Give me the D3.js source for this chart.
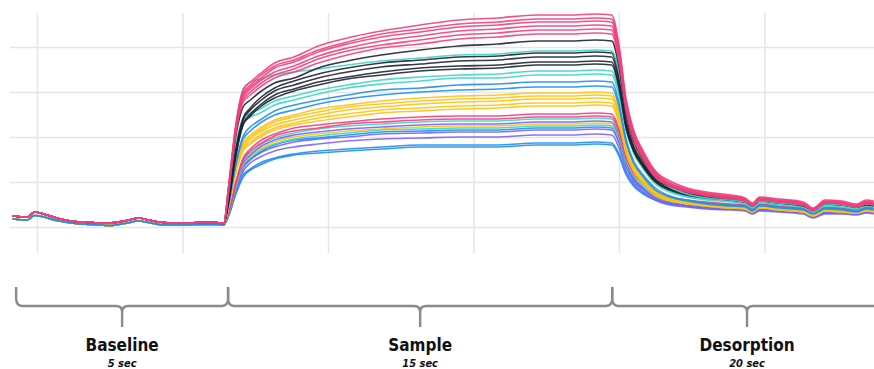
<!DOCTYPE html>
<html>
<head>
<meta charset="utf-8">
<script src="https://cdn.jsdelivr.net/npm/d3@7"></script>
<style>
body { margin: 0; background: #fff; }
svg { display: block; }
</style>
</head>
<body>
<script>
var w = 874;
var h = 369;

// time points (sample index) for each phase
var baseTimes = [0, 1, 3, 4.5, 6, 9, 12, 16, 20, 23, 26, 28, 31, 35, 39, 42, 43.5];
var sampleTimes = [44.5, 46, 47.5, 49, 51, 54, 58, 63, 69, 76, 84, 92, 100, 108, 115, 120, 123.5];
var dropTimes = [125, 126.5, 128, 130, 132.5, 135.5, 139, 143];
var tailTimes = [148, 151, 152.5, 154, 158, 163, 165, 167.5, 171, 174, 176, 177.5];

// baseline band (upper and lower edge of the bundle)
var baseUpper = [11, 10.5, 10, 15, 13.5, 9, 6, 4.5, 4, 6, 9, 7, 4.5, 4, 4.5, 4.5, 3.5];
var baseLower = [8, 7.5, 7, 11.5, 10.5, 6.5, 4, 2.5, 1.5, 3.5, 6, 4.5, 2, 2, 2.5, 2.5, 2];

var sensorColors = ["pink", "pink", "pink", "pink", "pink", "pink", "dark", "teal", "dark", "dark", "dark", "dark",
    "teal", "teal", "blue", "blue", "yellow", "yellow", "yellow", "yellow", "yellow", "pink", "pink", "teal",
    "purple", "yellow", "teal", "blue", "purple", "purple", "blue", "blue"];
var sensorBase = ["hi", "hi", "hi", "hi", "hi", "hi", "hi", "hi", "hi", "hi", "hi", "hi", "hi", "hi", "lo", "lo",
    "lo", "lo", "lo", "lo", "lo", "hi", "hi", "lo", "lo", "lo", "lo", "lo", "lo", "lo", "lo", "lo"];

// sensor responses: sample phase, desorption drop, desorption tail
var responses = [
    [41,103,137,145,153,164,170,181,189,196,202,207,209,212,212,213,212, 182,127,97,76,56,46,39,35, 32,29,24,30,28,25,19,27,26,23,27,26],
    [40,101,134,142,151,161,167,177,185,193,198,203,205,208,208,209,208, 178,124,95,74,55,44,38,34, 31,28,23,29,27,24,18,26,25,22,26,25],
    [39,100,132,140,148,159,165,175,183,190,195,200,202,205,205,206,205, 176,122,93,73,54,43,37,33, 30,27,23,28,26,23,18,25,24,21,25,24],
    [39,98,130,138,146,155,161,171,179,186,191,196,198,201,201,202,201, 172,120,92,72,53,43,37,33, 30,27,22,28,26,23,17,25,24,21,25,24],
    [38,96,127,135,143,152,158,168,176,182,187,192,194,197,197,198,197, 169,118,90,70,52,42,36,32, 29,26,22,27,25,22,17,24,23,21,24,23],
    [37,94,125,132,140,149,155,164,172,179,183,188,190,193,193,194,193, 165,115,88,68,50,41,35,31, 28,26,21,27,25,22,16,24,23,20,23,22],
    [36,91,120,127,135,144,149,159,166,172,177,181,183,186,186,187,186, 160,112,86,67,51,41,36,32, 29,27,22,28,26,23,17,25,24,21,24,23],
    [34,100,138,145,148,152,155,158,162,166,169,172,173,176,176,177,176, 155,115,90,70,52,40,33,29, 27,25,21,26,24,22,17,23,22,20,23,22],
    [27,77,109,119,129,139,146,153,159,164,167,170,171,174,174,175,174, 150,105,81,64,48,40,35,31, 28,26,22,27,25,22,17,24,23,21,24,23],
    [26,75,107,117,126,136,142,149,155,160,163,166,167,170,170,171,170, 146,103,79,62,47,38,34,30, 28,26,21,27,25,22,17,24,23,20,23,22],
    [26,73,103,113,122,132,138,145,150,155,159,161,162,165,165,166,165, 142,100,77,61,46,38,33,30, 27,25,21,26,24,22,17,23,22,20,23,22],
    [25,71,102,111,120,129,136,142,148,152,156,158,159,162,162,163,162, 139,98,76,60,45,37,32,29, 27,25,21,26,24,21,17,23,22,20,22,21],
    [30,82,108,114,118,126,131,137,142,147,150,152,153,156,156,157,156, 135,98,76,60,45,36,31,28, 26,24,20,25,23,21,16,22,21,19,22,21],
    [29,78,104,110,114,122,127,133,139,143,146,149,149,152,152,153,152, 131,96,74,58,43,35,30,27, 25,23,19,24,22,20,15,21,20,18,21,20],
    [23,64,91,100,107,116,122,127,132,137,139,142,143,145,145,146,145, 124,87,66,52,39,31,27,24, 22,21,17,22,20,18,14,19,18,16,19,18],
    [22,62,88,96,104,112,117,123,128,132,135,137,138,140,140,141,140, 120,84,64,50,37,30,26,23, 21,20,16,21,19,17,13,18,17,15,18,17],
    [21,59,84,92,99,107,112,118,122,126,129,131,132,134,134,135,134, 115,81,62,49,36,30,26,23, 21,20,16,21,19,17,13,18,17,15,18,17],
    [21,58,82,90,97,105,110,115,120,123,126,128,129,131,131,132,131, 112,79,60,47,35,29,25,22, 20,19,16,20,18,16,12,17,16,15,17,16],
    [20,57,80,88,95,102,107,112,117,120,123,125,126,128,128,129,128, 110,77,59,46,35,28,25,22, 20,19,15,20,18,16,12,17,16,14,17,16],
    [20,55,78,85,92,99,104,109,113,117,119,121,122,124,124,125,124, 106,75,57,45,33,27,24,21, 19,18,15,19,17,15,11,16,15,14,16,15],
    [20,54,76,83,90,97,102,106,110,114,116,118,119,121,121,122,121, 104,73,56,44,33,27,24,21, 19,18,15,19,17,15,11,16,15,14,16,15],
    [14,45,69,78,86,93,99,102,105,108,110,111,111,113,113,114,113, 98,71,56,45,36,30,27,25, 23,22,18,23,21,19,15,20,19,18,20,19],
    [14,44,67,76,83,91,96,99,103,105,107,108,108,110,110,111,110, 95,69,54,44,34,29,26,24, 22,21,18,22,20,18,14,19,18,17,19,18],
    [13,43,66,74,82,89,94,98,101,103,105,106,106,108,108,109,108, 93,67,52,42,32,27,24,22, 21,20,17,20,19,17,13,17,17,16,18,17],
    [13,42,64,72,80,87,92,95,98,100,102,103,103,105,105,106,105, 90,64,49,39,29,24,21,19, 18,17,14,17,16,14,10,14,14,13,15,14],
    [13,41,63,71,78,85,90,93,96,98,100,101,101,103,103,104,103, 89,64,50,40,31,26,23,21, 20,19,16,19,18,16,12,16,16,15,17,16],
    [13,40,62,70,77,83,88,91,94,97,98,99,99,101,101,102,101, 88,63,50,40,32,27,24,22, 21,20,17,20,19,17,13,17,17,16,18,17],
    [13,40,61,68,75,82,87,89,92,95,96,97,97,99,99,100,99, 86,61,48,38,30,25,22,20, 19,18,15,18,17,15,11,15,15,14,16,15],
    [12,39,59,67,74,80,85,88,90,93,94,95,95,97,97,98,97, 84,60,46,37,28,24,21,19, 18,17,14,17,16,14,10,14,14,13,15,14],
    [12,37,56,64,70,76,80,83,86,88,89,90,90,92,92,93,92, 79,56,44,35,27,22,20,18, 17,16,13,16,15,13,9,13,13,12,14,13],
    [11,34,52,58,64,69,73,76,78,80,82,82,82,84,84,85,84, 73,53,42,34,27,23,21,19, 18,17,14,17,16,14,10,14,14,13,15,14],
    [11,33,50,57,62,68,72,74,76,78,80,80,80,82,82,83,82, 71,52,41,33,27,23,21,19, 18,17,14,17,16,14,10,14,14,13,15,14]
];

// phases below the chart
var phaseBounds = [0.7, 44.4, 123.6, 179.2];
var phaseNames = ["Baseline", "Sample", "Desorption"];
var phaseDurations = ["5 sec", "15 sec", "20 sec"];

var palette = {
    pink: "#f23f7b",
    dark: "#1e2433",
    teal: "#3ed5c6",
    blue: "#1f8ef0",
    yellow: "#ffc20f",
    purple: "#7a63fa"
};

var svg = d3.select("body").append("svg").attr("width", w).attr("height", h);

var xScale = d3.scaleLinear().domain([0, 180]).range([12.75, 885.75]);
var yScale = d3.scaleLinear().domain([0, 180]).range([227, 47]);

// vertical grid
var xGrid = svg.append("g")
    .attr("transform", "translate(0,253)")
    .call(d3.axisBottom(xScale).tickValues(d3.range(5, 180, 30)).tickSize(-240).tickFormat(""));

// horizontal grid
var yGrid = svg.append("g")
    .attr("transform", "translate(10,0)")
    .call(d3.axisLeft(yScale).tickValues([0, 45, 90, 135, 180]).tickSize(-864).tickFormat(""));

[xGrid, yGrid].forEach(g => {
    g.select(".domain").remove();
    g.selectAll("line").attr("stroke", "#e5e5e5").attr("stroke-width", 1.5);
});

var allTimes = baseTimes.concat(sampleTimes, dropTimes, tailTimes);

var line = d3.line()
    .x(d => xScale(d[0]))
    .y(d => yScale(d[1]))
    .curve(d3.curveMonotoneX);

var lines = responses.map((r, i) => {
    var base = sensorBase[i] == "hi" ? baseUpper : baseLower;
    var vals = base.concat(r);
    return { color: palette[sensorColors[i]], points: allTimes.map((t, j) => [t, vals[j]]) };
});

// draw bottom sensors first so the top ones sit on top
svg.append("g").selectAll("path")
    .data(lines.slice().reverse())
    .enter()
    .append("path")
    .attr("d", d => line(d.points))
    .attr("fill", "none")
    .attr("stroke", d => d.color)
    .attr("stroke-width", 1.6)
    .attr("stroke-opacity", 0.9)
    .attr("stroke-linejoin", "round");

// phase braces
var yTop = 287, yMid = 306, yStem = 327, r = 6;
var phases = phaseNames.map((name, i) => {
    return { name: name, dur: phaseDurations[i], a: xScale(phaseBounds[i]), b: xScale(phaseBounds[i + 1]) };
});

var brace = svg.append("g");
brace.selectAll("path")
    .data(phases)
    .enter()
    .append("path")
    .attr("d", d => {
        var m = (d.a + d.b) / 2;
        return "M" + d.a + "," + yTop +
            " L" + d.a + "," + (yMid - 8) +
            " Q" + d.a + "," + yMid + " " + (d.a + r) + "," + yMid +
            " L" + (m - r) + "," + yMid +
            " Q" + m + "," + yMid + " " + m + "," + (yMid + r) +
            " L" + m + "," + yStem +
            " M" + m + "," + (yMid + r) +
            " Q" + m + "," + yMid + " " + (m + r) + "," + yMid +
            " L" + (d.b - r) + "," + yMid +
            " Q" + d.b + "," + yMid + " " + d.b + "," + (yMid - 8) +
            " L" + d.b + "," + yTop;
    })
    .attr("fill", "none")
    .attr("stroke", "#8a8a8a")
    .attr("stroke-width", 2.4);

brace.selectAll("text.name")
    .data(phases)
    .enter()
    .append("text")
    .attr("class", "name")
    .attr("x", d => (d.a + d.b) / 2)
    .attr("y", 351)
    .attr("text-anchor", "middle")
    .attr("font-family", "'Liberation Sans Narrow', 'DejaVu Sans Condensed', sans-serif")
    .attr("font-weight", "bold")
    .attr("font-size", "17px")
    .attr("fill", "#111")
    .text(d => d.name);

brace.selectAll("text.dur")
    .data(phases)
    .enter()
    .append("text")
    .attr("class", "dur")
    .attr("x", d => (d.a + d.b) / 2)
    .attr("y", 367)
    .attr("text-anchor", "middle")
    .attr("font-family", "'Liberation Sans Narrow', 'DejaVu Sans Condensed', sans-serif")
    .attr("font-weight", "bold")
    .attr("font-style", "italic")
    .attr("font-size", "11px")
    .attr("fill", "#111")
    .text(d => d.dur);
</script>
</body>
</html>
